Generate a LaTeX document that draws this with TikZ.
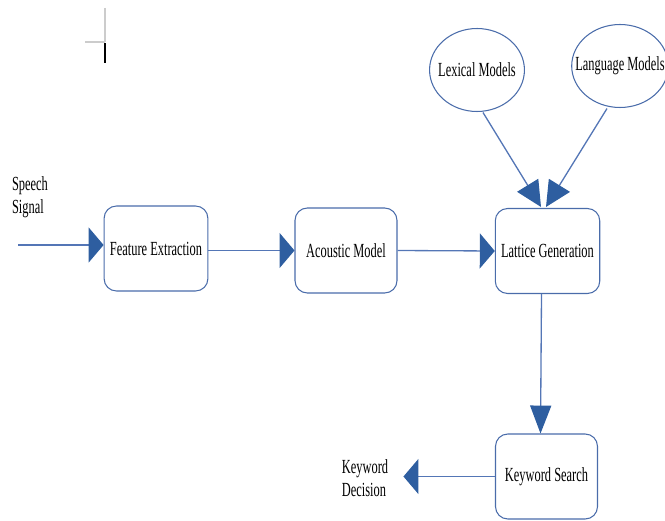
\documentclass[tikz,border=0pt]{standalone}
\usepackage{fontspec}
\setmainfont[FakeStretch=0.62]{Liberation Serif}
\usetikzlibrary{arrows.meta,shapes.geometric}
\definecolor{boxblue}{RGB}{74,108,170}
\definecolor{lineblue}{RGB}{84,118,182}
\definecolor{headblue}{RGB}{46,94,160}
\tikzset{
  stage/.style={draw=boxblue,line width=0.6pt,rounded corners=7pt,
    minimum width=2.04cm,minimum height=1.7cm,align=center},
  model/.style={draw=boxblue,line width=0.6pt,ellipse,inner ysep=0pt,
    minimum height=1.66cm},
  flow/.style={draw=lineblue,line width=0.75pt},
  hflow/.style={flow,-{Triangle[length=8.5pt,width=19.9pt,color=headblue]}},
  vflow/.style={flow,-{Triangle[length=15.9pt,width=12pt,color=headblue]}},
  dflow/.style={flow,-{Triangle[length=14.5pt,width=14pt,color=headblue]}},
  every node/.style={font=\fontsize{11.4}{13}\selectfont}
}
\begin{document}
\begin{tikzpicture}[x=0.02cm,y=-0.02cm]
\useasboundingbox (0,0) rectangle (665,520);

% marks
\draw [black!20,line width=0.6pt](105,8)--(105,42);
\draw [black!20,line width=0.6pt](85,42)--(105,42);
\draw [black,line width=1pt](105,43)--(105,63);

% stages
\node [stage] (fe) at (156,248.5) {Feature Extraction};
\node [stage] (am) at (346,250.5) {Acoustic Model};
\node [stage] (lg) at (547.5,251) {Lattice Generation};
\node [stage] (ks) at (546.5,476.5) {Keyword Search};

% models
\node [model,inner xsep=-0.105cm] (lex) at (477,70) {Lexical Models};
\node [model,inner xsep=-0.21cm] (lan) at (620,66) {Language Models};

% texts
\node [align=left] (sp) at (30,197) {Speech\\Signal};
\node [align=left,inner xsep=0.3cm] (kd) at (365,478) {Keyword\\Decision};
\coordinate (in) at (18,245);

% arrows
\draw [hflow](in)--(in -| fe.west);
\draw [hflow](fe.east |- am.west)--(am.west);
\draw [hflow](am.east)--(lg.west);
\draw [vflow]([xshift=-0.12cm]lg.south)--([xshift=-0.12cm]ks.north);
\draw [hflow](ks.west)--(ks.west -| kd.east);
\draw [dflow]([xshift=0.12cm,yshift=-0.01cm]lex.south)--([xshift=-0.13cm,yshift=0.02cm]lg.north);
\draw [dflow]([xshift=-0.26cm,yshift=-0.01cm]lan.south)--([xshift=-0.03cm,yshift=0.02cm]lg.north);

\end{tikzpicture}
\end{document}
